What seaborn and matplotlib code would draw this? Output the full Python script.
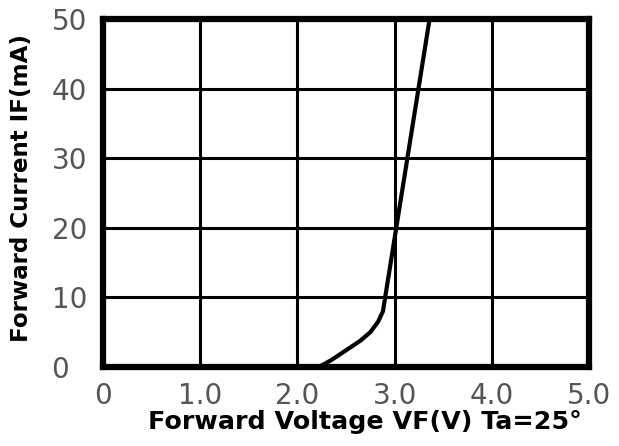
import matplotlib
matplotlib.use("Agg")
import matplotlib.pyplot as plt
import seaborn as sns
import pandas as pd

# Data
voltage = [2.22, 2.35, 2.50, 2.65, 2.75, 2.83, 2.88, 3.36]
current = [0.0, 1.0, 2.4, 3.8, 5.0, 6.5, 8.0, 50.0]
x_ticks = [0, 1, 2, 3, 4, 5]
x_tick_labels = ["0", "1.0", "2.0", "3.0", "4.0", "5.0"]
y_ticks = [0, 10, 20, 30, 40, 50]
y_tick_labels = ["0", "10", "20", "30", "40", "50"]

df = pd.DataFrame({"VF": voltage, "IF": current})

sns.set_style("white")
fig = plt.figure(figsize=(6.19, 4.46), dpi=100)
ax = fig.add_axes([103 / 619, 1 - 367 / 446, (589 - 103) / 619, (367 - 19) / 446])

sns.lineplot(data=df, x="VF", y="IF", ax=ax, color="black", linewidth=3.0,
             sort=False, estimator=None)

ax.set_xlim(0, 5)
ax.set_ylim(0, 50)
ax.set_xticks(x_ticks)
ax.set_xticklabels(x_tick_labels)
ax.set_yticks(y_ticks)
ax.set_yticklabels(y_tick_labels)
ax.grid(True, color="black", linewidth=2.2)
ax.set_axisbelow(True)
for s in ax.spines.values():
    s.set_visible(True)
    s.set_color("black")
    s.set_linewidth(4.5)

ax.tick_params(axis="both", length=0, labelsize=20, labelcolor="#555555")
ax.tick_params(axis="x", pad=11)
ax.tick_params(axis="y", pad=37)
for lbl in ax.get_yticklabels():
    lbl.set_horizontalalignment("left")

ax.set_xlabel("Forward Voltage VF(V) Ta=25°", fontsize=18.3, fontweight="bold",
              family="DejaVu Sans", color="black")
ax.set_ylabel("Forward Current IF(mA)", fontsize=16.6, fontweight="bold",
              family="DejaVu Sans", color="black")
ax.xaxis.set_label_coords(0.538, -0.125)
ax.yaxis.set_label_coords(-0.145, 0.515)

fig.savefig("out.png", dpi=100)
